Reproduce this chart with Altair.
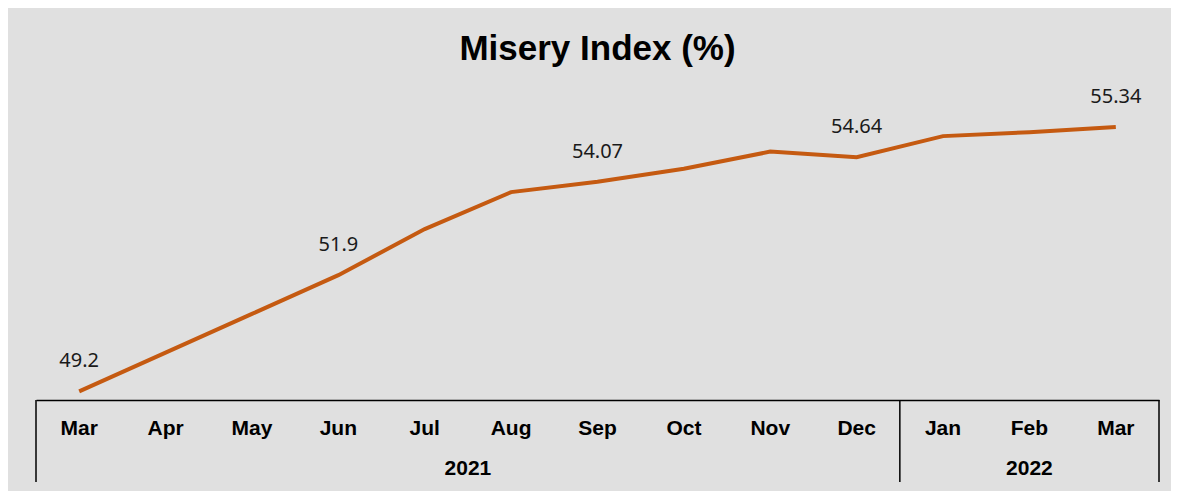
import altair as alt
import pandas as pd

months = ["Mar", "Apr", "May", "Jun", "Jul", "Aug", "Sep", "Oct", "Nov", "Dec", "Jan", "Feb", "Mar"]
years = ["2021"] * 10 + ["2022"] * 3
values = [49.2, 50.1, 51.0, 51.9, 52.97, 53.83, 54.07, 54.37, 54.77, 54.64, 55.13, 55.22, 55.34]
labelled = [True, False, False, True, False, False, True, False, False, True, False, False, True]

keys = [f"{m} {y}" for m, y in zip(months, years)]
df = pd.DataFrame({"key": keys, "value": values, "labelled": labelled})
lab_df = df[df["labelled"]]

# group separators (start of each year group, end of last)
sep_start = pd.DataFrame({"key": ["Mar 2021", "Jan 2022"]})
sep_end = pd.DataFrame({"key": ["Mar 2022"]})
# year labels: 2021 centred on its 10 months (start of Aug), 2022 on its 3 (middle of Feb)
year_a = pd.DataFrame({"key": ["Aug 2021"], "year": ["2021"]})
year_b = pd.DataFrame({"key": ["Feb 2022"], "year": ["2022"]})

x_scale = alt.Scale(type="band", domain=keys, paddingInner=0, paddingOuter=0)
x_axis = alt.Axis(
    title=None,
    labelExpr="split(datum.label, ' ')[0]",
    labelFont="Liberation Sans",
    labelFontSize=21,
    labelFontWeight="bold",
    labelColor="black",
    labelBaseline="alphabetic",
    labelPadding=34,
    labelAngle=0,
    labelOverlap=False,
    ticks=False,
    tickSize=0,
    grid=False,
    domainColor="black",
    domainWidth=1.5,
)


def xenc(bp=0.5):
    return alt.X("key:N", sort=None, scale=x_scale, axis=x_axis, bandPosition=bp)


y_scale = alt.Scale(domain=[49, 56.666], nice=False, zero=False)
yenc = alt.Y("value:Q", scale=y_scale, axis=None)

line = alt.Chart(df).mark_line(color="#C55A11", strokeWidth=4).encode(x=xenc(), y=yenc)

labels = alt.Chart(lab_df).mark_text(
    font="Noto Sans", fontSize=20, color="#1a1a1a", baseline="middle", dy=-30
).encode(x=xenc(), y=yenc, text=alt.Text("value:Q"))

rules1 = alt.Chart(sep_start).mark_rule(color="black", strokeWidth=1.5).encode(
    x=xenc(0), y=alt.value(330), y2=alt.value(412)
)
rules2 = alt.Chart(sep_end).mark_rule(color="black", strokeWidth=1.5).encode(
    x=xenc(1), y=alt.value(330), y2=alt.value(412)
)

yt_style = dict(font="Liberation Sans", fontSize=21, fontWeight="bold", color="black", baseline="alphabetic")
year1 = alt.Chart(year_a).mark_text(**yt_style).encode(x=xenc(0), y=alt.value(405), text="year:N")
year2 = alt.Chart(year_b).mark_text(**yt_style).encode(x=xenc(0.5), y=alt.value(405), text="year:N")

chart = (
    alt.layer(line, labels, rules1, rules2, year1, year2)
    .properties(
        width=1123,
        height=330,
        padding={"left": 28, "top": 62, "right": 12, "bottom": 91},
        autosize=alt.AutoSizeParams(type="none"),
        background="#e0e0e0",
        title=alt.TitleParams(
            "Misery Index (%)",
            font="Liberation Sans",
            fontSize=35,
            fontWeight="bold",
            color="black",
            anchor="middle",
            baseline="alphabetic",
            offset=9,
            dy=34,
        ),
    )
    .configure_view(strokeWidth=0)
)

chart.save("out.html", embed_options={"renderer": "svg", "actions": False})
